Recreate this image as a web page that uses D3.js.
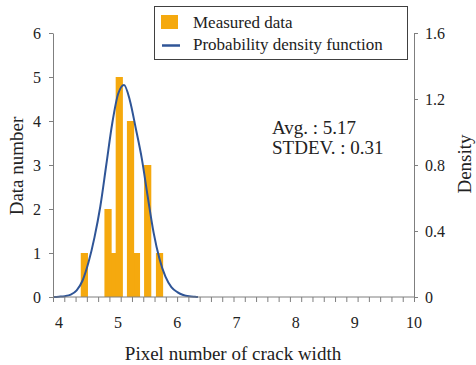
<!DOCTYPE html>
<html>
<head>
<meta charset="utf-8">
<script src="https://cdn.jsdelivr.net/npm/d3@7"></script>
<style>
  body { margin: 0; background: #fff; }
  svg text { font-family: "Liberation Serif", "Times New Roman", serif; fill: #222; }
</style>
</head>
<body>
<div id="chart"></div>
<script>
// histogram bins (bin centre, count)
const binCenters = [4.43, 4.83, 4.92, 5.02, 5.21, 5.31, 5.50, 5.70];
const counts = [1, 2, 1, 5, 4, 1, 3, 1];

// probability density curve
const pdfX = [3.9, 4.0, 4.1, 4.2, 4.3, 4.4, 4.5, 4.6, 4.7, 4.8, 4.9, 5.0, 5.1, 5.2, 5.3, 5.4, 5.5, 5.6, 5.7, 5.8, 5.9, 6.0, 6.1, 6.2, 6.3, 6.35];
const pdfY = [0, 0.002, 0.005, 0.014, 0.04, 0.1, 0.21, 0.36, 0.55, 0.8, 1.05, 1.23, 1.285, 1.19, 1.02, 0.84, 0.61, 0.39, 0.23, 0.123, 0.06, 0.03, 0.012, 0.004, 0.001, 0];

const xTickLabels = [4, 5, 6, 7, 8, 9, 10];
const leftTicks = [0, 1, 2, 3, 4, 5, 6];
const rightTicks = [0, 0.4, 0.8, 1.2, 1.6];

const width = 476, height = 365;
const plot = { left: 53, right: 414, top: 33, bottom: 297 };

const serif = "'Liberation Serif', 'Times New Roman', serif";
const orange = "#f5a90e", blue = "#2f5597", axisGrey = "#7f7f7f";

const svg = d3.select("#chart").append("svg")
  .attr("width", width)
  .attr("height", height);

const x = d3.scaleLinear().domain([3.9, 10]).range([plot.left, plot.right]);
const yL = d3.scaleLinear().domain([0, 6]).range([plot.bottom, plot.top]);
const yR = d3.scaleLinear().domain([0, 1.6]).range([plot.bottom, plot.top]);

// bars, lower ones first so the taller ones sit on top
const binW = 0.122;
const bars = binCenters.map((c, i) => ({ c, n: counts[i] }))
  .sort((a, b) => a.n - b.n);
svg.append("g").selectAll("rect")
  .data(bars)
  .enter().append("rect")
  .attr("x", d => x(d.c - binW / 2))
  .attr("width", x(binW) - x(0))
  .attr("y", d => yL(d.n))
  .attr("height", d => yL(0) - yL(d.n))
  .attr("fill", orange);

// density curve
const line = d3.line()
  .x((d, i) => x(pdfX[i]))
  .y(d => yR(d))
  .curve(d3.curveMonotoneX);
svg.append("path")
  .datum(pdfY)
  .attr("d", line)
  .attr("fill", "none")
  .attr("stroke", blue)
  .attr("stroke-width", 2);

// axes
const minorTicks = d3.range(33).map(i => 3.9 + i * (6.1 / 32));
const xAxis = svg.append("g").attr("transform", `translate(0,${plot.bottom})`)
  .call(d3.axisBottom(x).tickValues(minorTicks).tickSize(5).tickFormat(""));
xAxis.selectAll("line, path").attr("stroke", axisGrey);
xAxis.select(".domain").attr("d", `M${plot.left},0H${plot.right}`);

svg.append("g").selectAll("text")
  .data(xTickLabels)
  .enter().append("text")
  .attr("x", d => x(d))
  .attr("y", 328)
  .attr("text-anchor", "middle")
  .attr("font-family", serif)
  .style("font-size", "16px")
  .text(d => d);

const yAxisL = svg.append("g").attr("transform", `translate(${plot.left},0)`)
  .call(d3.axisLeft(yL).tickValues(leftTicks).tickSize(4).tickPadding(8).tickSizeOuter(0)
    .tickFormat(d3.format("d")));
yAxisL.attr("font-family", serif).attr("font-size", 16);
yAxisL.selectAll("line, path").attr("stroke", axisGrey);
yAxisL.selectAll("text").attr("font-family", serif).style("font-size", "16px");

const yAxisR = svg.append("g").attr("transform", `translate(${plot.right},0)`)
  .call(d3.axisRight(yR).tickValues(rightTicks).tickSize(4).tickPadding(7).tickSizeOuter(0)
    .tickFormat(d => d === 0 ? "0" : d3.format(".1f")(d)));
yAxisR.attr("font-family", serif).attr("font-size", 16);
yAxisR.selectAll("line, path").attr("stroke", axisGrey);
yAxisR.selectAll("text").attr("font-family", serif).style("font-size", "16px");

// axis titles
svg.append("text")
  .attr("x", 233).attr("y", 360)
  .attr("text-anchor", "middle")
  .style("font-size", "19px")
  .text("Pixel number of crack width");

svg.append("text")
  .attr("transform", `translate(23,166) rotate(-90)`)
  .attr("text-anchor", "middle")
  .style("font-size", "19px")
  .text("Data number");

svg.append("text")
  .attr("transform", `translate(471,164) rotate(-90)`)
  .attr("text-anchor", "middle")
  .style("font-size", "19px")
  .text("Density");

// stats note
svg.append("text").attr("x", 272).attr("y", 134)
  .style("font-size", "19px").text("Avg. : 5.17");
svg.append("text").attr("x", 272).attr("y", 154)
  .style("font-size", "19px").text("STDEV. : 0.31");

// legend
const lg = svg.append("g");
lg.append("rect")
  .attr("x", 154.5).attr("y", 6.5)
  .attr("width", 253).attr("height", 53)
  .attr("fill", "#fff")
  .attr("stroke", "#404040");
lg.append("rect")
  .attr("x", 161).attr("y", 15)
  .attr("width", 17).attr("height", 14)
  .attr("fill", orange);
lg.append("line")
  .attr("x1", 162).attr("x2", 180)
  .attr("y1", 45.5).attr("y2", 45.5)
  .attr("stroke", blue).attr("stroke-width", 2.5);
lg.append("text").attr("x", 193).attr("y", 28)
  .style("font-size", "17px").text("Measured data");
lg.append("text").attr("x", 193).attr("y", 50)
  .style("font-size", "17px").text("Probability density function");
</script>
</body>
</html>
